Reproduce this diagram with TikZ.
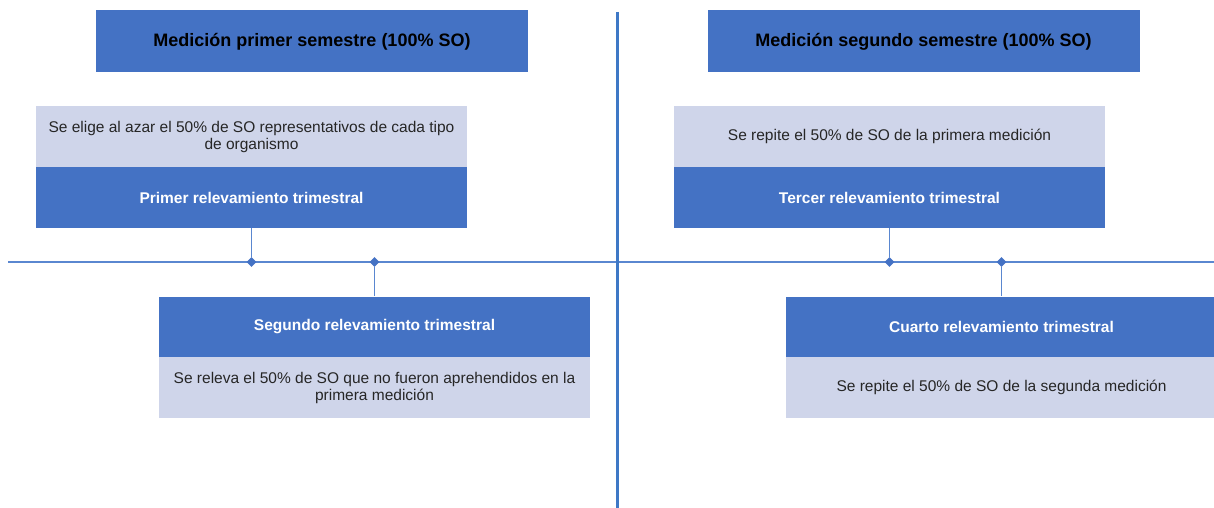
\documentclass[tikz,border=0pt]{standalone}
\usepackage{fontspec}
\setmainfont{Liberation Sans}
\usetikzlibrary{shapes.geometric}
\definecolor{accblue}{HTML}{4472C4}
\definecolor{lightblue}{HTML}{CFD5EA}
\definecolor{linecol}{HTML}{5A87D0}
\definecolor{divcol}{HTML}{3E78C6}
\definecolor{notetext}{HTML}{262626}
\begin{document}
\begin{tikzpicture}[x=1pt,y=-1pt,
  titlebox/.style={fill=accblue, minimum width=432pt, minimum height=62pt, inner sep=0pt,
    font=\fontsize{18}{21}\selectfont\bfseries, text=black},
  headbox/.style={fill=accblue, minimum width=431pt, minimum height=61pt, inner sep=0pt,
    font=\fontsize{15.5}{17.5}\selectfont\bfseries, text=white},
  notebox/.style={fill=lightblue, minimum width=431pt, minimum height=61pt, inner sep=0pt,
    align=center, font=\fontsize{15.5}{17}\selectfont, text=notetext},
  dot/.style={diamond, fill=accblue, inner sep=0pt, minimum size=10pt},
  link/.style={draw=linecol, line width=1.3pt},
  divider/.style={draw=divcol, line width=3pt}]
\path[use as bounding box] (0,0) rectangle (1214,508);

% titles
\node[titlebox] (t1) at (312,41.5) {Medición primer semestre (100\% SO)};
\node[titlebox] (t2) at (923.5,41.5) {Medición segundo semestre (100\% SO)};

% left side
\node[notebox] (n1) at (251.5,136.5) {Se elige al azar el 50\% de SO representativos de cada tipo\\de organismo};
\node[headbox] (h1) at (251.5,197.5) {Primer relevamiento trimestral};
\node[headbox] (h2) at (374.5,327) {Segundo relevamiento trimestral};
\node[notebox] (n2) at (374.5,387.5) {Se releva el 50\% de SO que no fueron aprehendidos en la\\primera medición};

% right side
\node[notebox] (n3) at (889.5,136.5) {Se repite el 50\% de SO de la primera medición};
\node[headbox] (h3) at (889.5,197.5) {Tercer relevamiento trimestral};
\node[headbox] (h4) at (1001.5,327) {Cuarto relevamiento trimestral};
\node[notebox] (n4) at (1001.5,387.5) {Se repite el 50\% de SO de la segunda medición};

% timeline and divider
\coordinate (tlA) at (8,262);
\coordinate (tlB) at (1214,262);
\draw[link] (tlA) -- (tlB);
\coordinate (dvA) at (617,12);
\coordinate (dvB) at (617,508);
\draw[divider] (dvA) -- (dvB);

% markers
\node[dot] (d1) at (251.5,262) {};
\node[dot] (d2) at (374.5,262) {};
\node[dot] (d3) at (889.5,262) {};
\node[dot] (d4) at (1001.5,262) {};

% connectors
\draw[link] (h1.south) -- (d1.north);
\draw[link] (d2.south) -- (h2.north);
\draw[link] (h3.south) -- (d3.north);
\draw[link] (d4.south) -- (h4.north);
\end{tikzpicture}
\end{document}
